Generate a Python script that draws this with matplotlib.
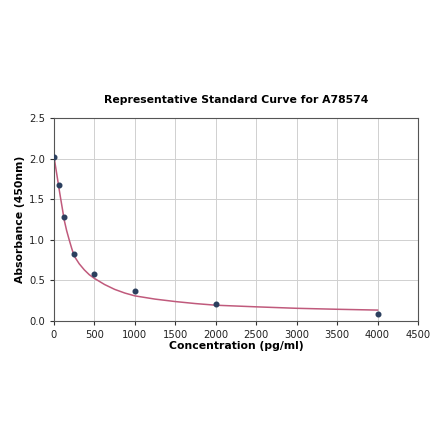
import matplotlib
matplotlib.use('Agg')
import matplotlib.pyplot as plt

# standard points
conc = [0, 62.5, 125, 250, 500, 1000, 2000, 4000]
absorb = [2.02, 1.675, 1.285, 0.83, 0.575, 0.365, 0.213, 0.082]

# fitted curve
curve_x = [0, 15, 31, 47, 62.5, 78, 94, 110, 125, 156, 188, 219, 250, 312, 375, 437, 500,
           625, 750, 875, 1000, 1250, 1500, 1750, 2000, 2500, 3000, 3500, 4000]
curve_y = [2.03, 1.93, 1.83, 1.73, 1.63, 1.535, 1.44, 1.345, 1.25, 1.115, 1.0, 0.895, 0.80,
           0.705, 0.63, 0.57, 0.525, 0.45, 0.39, 0.345, 0.31, 0.27, 0.24, 0.215, 0.195,
           0.175, 0.157, 0.145, 0.135]

xticks = [0, 500, 1000, 1500, 2000, 2500, 3000, 3500, 4000, 4500]
yticks = [0.0, 0.5, 1.0, 1.5, 2.0, 2.5]

fig = plt.figure(figsize=(4.4, 4.41), dpi=100)
ax = fig.add_axes([0.1227, 0.272, 0.8273, 0.4604])

ax.plot(curve_x, curve_y, color='#c05a7c', linewidth=1.1, zorder=2)
ax.scatter(conc, absorb, s=11, color='#2b3f5e', zorder=3)

ax.set_xlim(0, 4500)
ax.set_ylim(0, 2.5)
ax.set_xticks(xticks)
ax.set_yticks(yticks)
ax.grid(True, color='#d0d0d0', linewidth=0.7)
ax.set_axisbelow(True)
ax.tick_params(labelsize=7.2, length=3, colors='#333333', labelcolor='#222222')
for s in ax.spines.values():
    s.set_color('#555555')
    s.set_linewidth(0.8)

ax.set_title('Representative Standard Curve for A78574', fontsize=7.8, fontweight='bold', pad=11)
ax.set_xlabel('Concentration (pg/ml)', fontsize=7.8, fontweight='bold', labelpad=1)
ax.set_ylabel('Absorbance (450nm)', fontsize=7.8, fontweight='bold', labelpad=3)

fig.savefig('out.png', dpi=100)
